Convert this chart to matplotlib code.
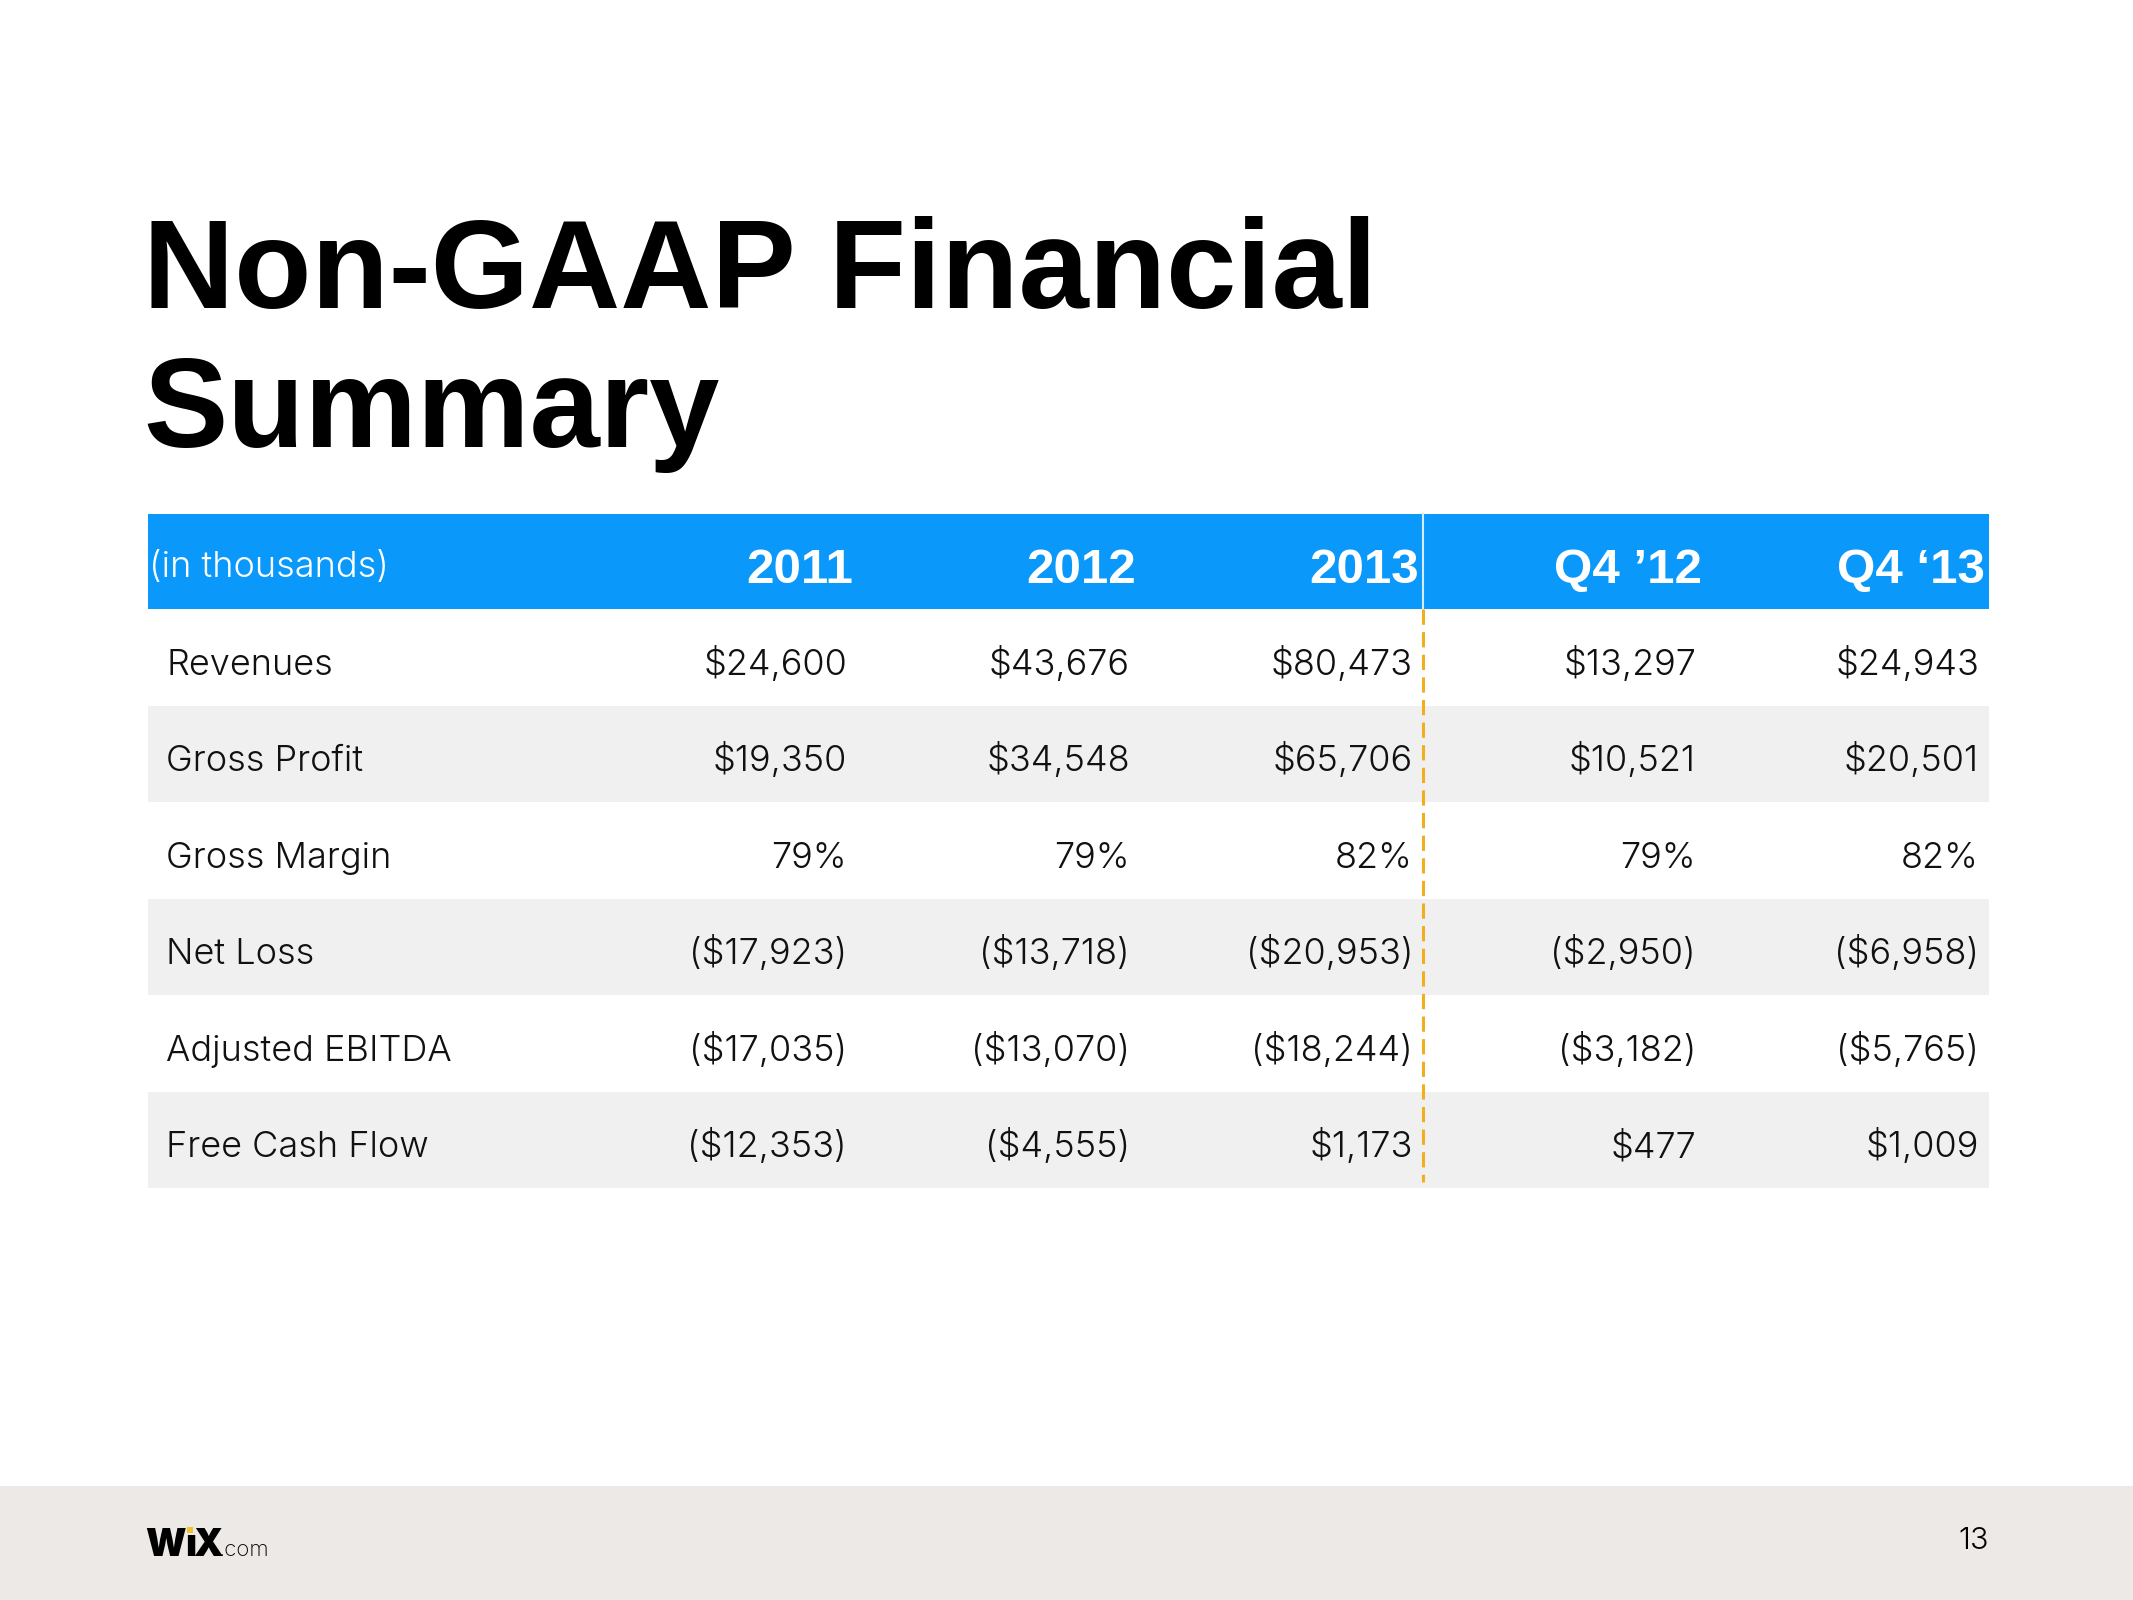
import matplotlib
matplotlib.use("Agg")
import matplotlib.pyplot as plt
from matplotlib.patches import Rectangle

# Table data (in thousands)
col_labels = ['2011', '2012', '2013', 'Q4 \u201912', 'Q4 \u201813']
row_labels = ['Revenues', 'Gross Profit', 'Gross Margin', 'Net Loss',
              'Adjusted EBITDA', 'Free Cash Flow']
revenues = [24600, 43676, 80473, 13297, 24943]
gross_profit = [19350, 34548, 65706, 10521, 20501]
gross_margin = [79, 79, 82, 79, 82]
net_loss = [-17923, -13718, -20953, -2950, -6958]
adj_ebitda = [-17035, -13070, -18244, -3182, -5765]
free_cash_flow = [-12353, -4555, 1173, 477, 1009]

rows = [revenues, gross_profit, gross_margin, net_loss, adj_ebitda, free_cash_flow]
is_pct = [False, False, True, False, False, False]


def fmt(v, pct):
    if pct:
        return f'{v}%'
    if v < 0:
        return f'(${-v:,})'
    return f'${v:,}'


BLUE = '#0A99FA'
GRAY = '#F0F0F0'
ORANGE = '#F2AE1C'
FOOTER = '#ECE9E6'
BODY_FONT = 'Inter'
BOLD_FONT = 'Liberation Sans'

W, H = 2133, 1600
fig = plt.figure(figsize=(W / 100, H / 100), dpi=100)
ax = fig.add_axes([0, 0, 1, 1])
ax.set_xlim(0, W)
ax.set_ylim(H, 0)
ax.axis('off')

# Title
ax.text(143, 308, 'Non-GAAP Financial', fontsize=91, fontweight='bold',
        family=BOLD_FONT, ha='left', va='baseline', color='black')
ax.text(143, 447, 'Summary', fontsize=91, fontweight='bold',
        family=BOLD_FONT, ha='left', va='baseline', color='black')

# Table geometry
left, right = 148, 1989
head_top, head_bot = 514, 609
row_h = 96.5
divider_x = 1423
col_right = [1979 - 283 * (len(col_labels) - 1 - i) for i in range(len(col_labels))]

# header bar
ax.add_patch(Rectangle((left, head_top), right - left, head_bot - head_top,
                       facecolor=BLUE, edgecolor='none'))
ax.text(left + 1, 577, '(in thousands)', fontsize=26, fontweight=300,
        family=BODY_FONT, color='white', ha='left', va='baseline')
for i, lab in enumerate(col_labels):
    ax.text(col_right[i] + 6, 583, lab, fontsize=35.5, fontweight='bold',
            family=BOLD_FONT, color='white', ha='right', va='baseline')
ax.plot([divider_x, divider_x], [head_top, head_bot], color='#D6ECFB', lw=1.5)

# body rows
for r, (name, vals) in enumerate(zip(row_labels, rows)):
    y0 = head_bot + r * row_h
    if r % 2 == 1:
        ax.add_patch(Rectangle((left, y0), right - left, row_h,
                               facecolor=GRAY, edgecolor='none'))
    base = y0 + row_h / 2 + 17.5
    ax.text(166, base, name, fontsize=26, fontweight=300, family=BODY_FONT,
            color='#111111', ha='left', va='baseline')
    for i, v in enumerate(vals):
        ax.text(col_right[i], base, fmt(v, is_pct[r]), fontsize=26, fontweight=300,
                family=BODY_FONT, color='#111111', ha='right', va='baseline')

# dashed divider between annual and quarterly columns
ax.plot([divider_x, divider_x], [head_bot, head_bot + len(row_labels) * row_h - 6],
        color=ORANGE, lw=2.2, linestyle=(0, (5, 2.4)))

# footer band
ax.add_patch(Rectangle((0, 1486), W, H - 1486, facecolor=FOOTER, edgecolor='none'))
ax.text(145, 1556, 'W', fontsize=27, fontweight=900, family=BODY_FONT,
        color='black', ha='left', va='baseline')
ax.text(185, 1556, '\u0131', fontsize=27, fontweight=900, family=BODY_FONT,
        color='black', ha='left', va='baseline')
ax.add_patch(Rectangle((187, 1527), 6, 6, facecolor='#F2C12E', edgecolor='none'))
ax.text(193, 1556, 'X', fontsize=27, fontweight=900, family=BODY_FONT,
        color='black', ha='left', va='baseline')
ax.text(219, 1556, '.com', fontsize=16, fontweight=200, family=BODY_FONT,
        color='black', ha='left', va='baseline')
ax.text(1989, 1549, '13', fontsize=22, fontweight=300, family=BODY_FONT,
        color='black', ha='right', va='baseline')

fig.savefig('out.png', dpi=100)
